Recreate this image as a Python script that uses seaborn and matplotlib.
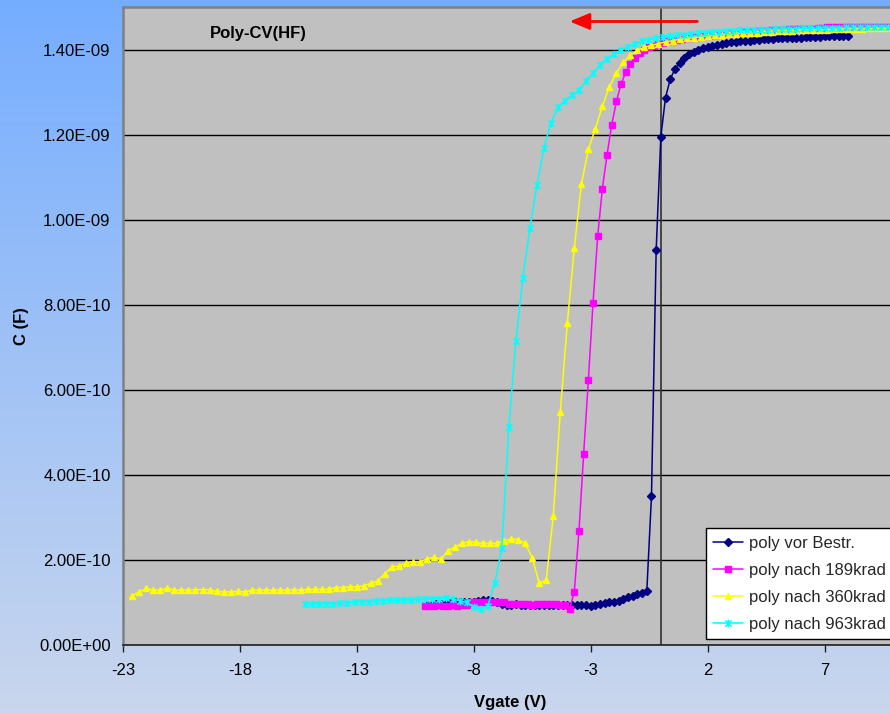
import numpy as np
import matplotlib
matplotlib.use('Agg')
import matplotlib.pyplot as plt
import seaborn as sns
from matplotlib.ticker import FuncFormatter
from matplotlib.path import Path

# ---------------- data (C in units of 1e-10 F) ----------------
series_names = ["poly vor Bestr.", "poly nach 189krad", "poly nach 360krad", "poly nach 963krad"]

vor_x = [-10.0, -9.8, -9.6, -9.4, -9.2, -9.0, -8.8, -8.6, -8.4, -8.2, -8.0, -7.8, -7.6, -7.4, -7.2, -7.0,
         -6.8, -6.6, -6.4, -6.2, -6.0, -5.8, -5.6, -5.4, -5.2, -5.0, -4.8, -4.6, -4.4, -4.2, -4.0, -3.8,
         -3.6, -3.4, -3.2, -3.0, -2.8, -2.6, -2.4, -2.2, -2.0, -1.8, -1.6, -1.4, -1.2, -1.0, -0.8, -0.6,
         -0.4, -0.2, 0.0, 0.2, 0.4, 0.6, 0.8, 1.0, 1.2, 1.4, 1.6, 1.8, 2.0, 2.2, 2.4, 2.6, 2.8, 3.0,
         3.2, 3.4, 3.6, 3.8, 4.0, 4.2, 4.4, 4.6, 4.8, 5.0, 5.2, 5.4, 5.6, 5.8, 6.0, 6.2, 6.4, 6.6,
         6.8, 7.0, 7.2, 7.4, 7.6, 7.8, 8.0]
vor_c = [0.95, 0.96, 0.97, 0.97, 0.98, 0.99, 1.00, 1.01, 1.00, 1.02, 1.01, 1.04, 1.06, 1.05, 1.03, 1.01,
         0.97, 0.95, 0.95, 0.96, 0.95, 0.95, 0.94, 0.93, 0.94, 0.93, 0.94, 0.95, 0.94, 0.94, 0.95, 0.94,
         0.93, 0.94, 0.94, 0.92, 0.94, 0.96, 0.98, 1.00, 1.00, 1.03, 1.08, 1.12, 1.15, 1.19, 1.22, 1.27,
         3.50, 9.28, 11.95, 12.87, 13.30, 13.54, 13.68, 13.80, 13.90, 13.95, 13.99, 14.04, 14.07, 14.09, 14.11, 14.13, 14.15, 14.17,
         14.18, 14.19, 14.20, 14.21, 14.22, 14.23, 14.24, 14.24, 14.25, 14.26, 14.26, 14.27, 14.27, 14.28, 14.28, 14.29, 14.29, 14.30,
         14.30, 14.31, 14.31, 14.31, 14.32, 14.32, 14.32]

k189_x = [-10.1, -9.9, -9.7, -9.5, -9.3, -9.1, -8.9, -8.7, -8.5, -8.3, -8.1, -7.9, -7.7, -7.5, -7.3, -7.1,
          -6.9, -6.7, -6.5, -6.3, -6.1, -5.9, -5.7, -5.5, -5.3, -5.1, -4.9, -4.7, -4.5, -4.3, -4.1, -3.9,
          -3.7, -3.5, -3.3, -3.1, -2.9, -2.7, -2.5, -2.3, -2.1, -1.9, -1.7, -1.5, -1.3, -1.1, -0.9, -0.7,
          -0.5, -0.3, -0.1, 0.1, 0.3, 0.5, 0.7, 0.9, 1.1, 1.3, 1.5, 1.7, 1.9, 2.1, 2.3, 2.5, 2.7, 2.9,
          3.1, 3.3, 3.5, 3.7, 3.9, 4.1, 4.3, 4.5, 4.7, 4.9, 5.1, 5.3, 5.5, 5.7, 5.9, 6.1, 6.3, 6.5,
          6.7, 6.9, 7.1, 7.3, 7.5, 7.7, 7.9, 8.1, 8.3, 8.5, 8.7, 8.9, 9.1, 9.3, 9.5, 9.7, 9.9]
k189_c = [0.92, 0.92, 0.92, 0.93, 0.92, 0.92, 0.93, 0.92, 0.93, 0.95, 1.01, 1.02, 1.02, 1.02, 1.01, 1.02,
          1.01, 1.00, 0.97, 0.96, 0.97, 0.96, 0.96, 0.95, 0.96, 0.96, 0.97, 0.96, 0.96, 0.95, 0.95, 0.85,
          1.25, 2.69, 4.49, 6.22, 8.04, 9.61, 10.73, 11.53, 12.23, 12.78, 13.19, 13.47, 13.66, 13.81, 13.91, 13.99,
          14.05, 14.09, 14.13, 14.16, 14.19, 14.21, 14.23, 14.25, 14.27, 14.28, 14.30, 14.31, 14.33, 14.34, 14.35, 14.36, 14.37, 14.38,
          14.39, 14.40, 14.41, 14.41, 14.42, 14.43, 14.43, 14.44, 14.45, 14.46, 14.47, 14.47, 14.48, 14.48, 14.48, 14.49, 14.49, 14.49,
          14.50, 14.51, 14.52, 14.52, 14.52, 14.52, 14.53, 14.53, 14.53, 14.53, 14.53, 14.53, 14.54, 14.54, 14.54, 14.54, 14.54]

k360_x = [-22.6, -22.3, -22.0, -21.7, -21.4, -21.1, -20.8, -20.5, -20.2, -19.9, -19.6, -19.3, -19.0, -18.7,
          -18.4, -18.1, -17.8, -17.5, -17.2, -16.9, -16.6, -16.3, -16.0, -15.7, -15.4, -15.1, -14.8, -14.5,
          -14.2, -13.9, -13.6, -13.3, -13.0, -12.7, -12.4, -12.1, -11.8, -11.5, -11.2, -10.9, -10.6, -10.3,
          -10.0, -9.7, -9.4, -9.1, -8.8, -8.5, -8.2, -7.9, -7.6, -7.3, -7.0, -6.7, -6.4, -6.1, -5.8, -5.5,
          -5.2, -4.9, -4.6, -4.3, -4.0, -3.7, -3.4, -3.1, -2.8, -2.5, -2.2, -1.9, -1.6, -1.3, -1.0, -0.7,
          -0.4, -0.1, 0.2, 0.5, 0.8, 1.1, 1.4, 1.7, 2.0, 2.3, 2.6, 2.9, 3.2, 3.5, 3.8, 4.1, 4.4, 4.7,
          5.0, 5.3, 5.6, 5.9, 6.2, 6.5, 6.8, 7.1, 7.4, 7.7, 8.0, 8.3, 8.6, 8.9, 9.2, 9.5, 9.8]
k360_c = [1.16, 1.25, 1.33, 1.29, 1.29, 1.33, 1.29, 1.29, 1.29, 1.30, 1.30, 1.30, 1.26, 1.25,
          1.25, 1.26, 1.25, 1.29, 1.29, 1.29, 1.29, 1.29, 1.29, 1.30, 1.29, 1.31, 1.31, 1.31,
          1.31, 1.35, 1.35, 1.37, 1.37, 1.39, 1.45, 1.51, 1.68, 1.84, 1.86, 1.93, 1.96, 1.96,
          2.02, 2.06, 2.02, 2.22, 2.30, 2.39, 2.43, 2.41, 2.39, 2.39, 2.39, 2.45, 2.49, 2.48, 2.39, 2.05,
          1.45, 1.53, 3.03, 5.47, 7.56, 9.33, 10.83, 11.65, 12.14, 12.67, 13.12, 13.45, 13.70, 13.87, 13.98, 14.05,
          14.10, 14.14, 14.18, 14.21, 14.24, 14.26, 14.28, 14.30, 14.32, 14.33, 14.35, 14.36, 14.37, 14.38, 14.39, 14.40, 14.41, 14.42,
          14.43, 14.44, 14.44, 14.45, 14.46, 14.46, 14.47, 14.47, 14.48, 14.48, 14.49, 14.49, 14.49, 14.50, 14.50, 14.50, 14.51]

k963_x = [-15.2, -14.9, -14.6, -14.3, -14.0, -13.7, -13.4, -13.1, -12.8, -12.5, -12.2, -11.9, -11.6, -11.3,
          -11.0, -10.7, -10.4, -10.1, -9.8, -9.5, -9.2, -8.9, -8.6, -8.3, -8.0, -7.7, -7.4, -7.1, -6.8,
          -6.5, -6.2, -5.9, -5.6, -5.3, -5.0, -4.7, -4.4, -4.1, -3.8, -3.5, -3.2, -2.9, -2.6, -2.3, -2.0,
          -1.7, -1.4, -1.1, -0.8, -0.5, -0.2, 0.1, 0.4, 0.7, 1.0, 1.3, 1.6, 1.9, 2.2, 2.5, 2.8, 3.1,
          3.4, 3.7, 4.0, 4.3, 4.6, 4.9, 5.2, 5.5, 5.8, 6.1, 6.4, 6.7, 7.0, 7.3, 7.6, 7.9, 8.2, 8.5,
          8.8, 9.1, 9.4, 9.7]
k963_c = [0.96, 0.96, 0.96, 0.97, 0.97, 0.98, 0.98, 1.01, 1.02, 1.02, 1.03, 1.04, 1.05, 1.05,
          1.06, 1.06, 1.07, 1.07, 1.09, 1.09, 1.10, 1.08, 1.04, 1.00, 0.90, 0.84, 0.92, 1.45, 2.27,
          5.12, 7.14, 8.64, 9.80, 10.81, 11.68, 12.28, 12.64, 12.80, 12.92, 13.04, 13.26, 13.44, 13.64, 13.77, 13.90,
          13.99, 14.07, 14.13, 14.19, 14.23, 14.27, 14.29, 14.31, 14.33, 14.35, 14.37, 14.38, 14.40, 14.41, 14.42, 14.43, 14.44,
          14.45, 14.45, 14.46, 14.47, 14.47, 14.48, 14.48, 14.49, 14.49, 14.50, 14.50, 14.50, 14.51, 14.51, 14.51, 14.52, 14.52, 14.52,
          14.52, 14.53, 14.53, 14.53]

y_ticks = [0.0, 2e-10, 4e-10, 6e-10, 8e-10, 1.0e-9, 1.2e-9, 1.4e-9]
x_ticks = [-23, -18, -13, -8, -3, 2, 7]

# ---------------- styling ----------------
sns.set_theme(style='white')
plt.rcParams['font.family'] = ['Liberation Sans', 'DejaVu Sans']
plt.rcParams['axes.unicode_minus'] = False

fig = plt.figure(figsize=(8.9, 7.14), dpi=100)

# gradient background
bg = fig.add_axes([0, 0, 1, 1], zorder=-10)
g = np.linspace(0, 1, 256)[:, None, None]
top = np.array([0.46, 0.68, 1.0])
bot = np.array([0.79, 0.84, 0.93])
img = top + (bot - top) * g
bg.imshow(img, aspect='auto', extent=[0, 1, 0, 1])
bg.set_axis_off()

ax = fig.add_axes([123 / 890, 1 - 645 / 714, 1 - 123 / 890, 638 / 714])
ax.set_facecolor('#C0C0C0')

# Excel-like "star" marker: an x with a vertical bar
star = Path([(-1, -1), (1, 1), (-1, 1), (1, -1), (0, -1.25), (0, 1.25)],
            [Path.MOVETO, Path.LINETO, Path.MOVETO, Path.LINETO, Path.MOVETO, Path.LINETO])

styles = [
    (vor_x, vor_c, '#000080', 'D', 4.0, 1.0),
    (k189_x, k189_c, '#FF00FF', 's', 4.0, 1.0),
    (k360_x, k360_c, '#FFFF00', '^', 5.0, 1.0),
    (k963_x, k963_c, '#00FFFF', star, 5.5, 1.1),
]
for (xs, cs, col, mk, ms, mew), name in zip(styles, series_names):
    assert len(xs) == len(cs), name
    sns.lineplot(x=xs, y=np.array(cs) * 1e-10, ax=ax, color=col, marker=mk, markersize=ms,
                 markeredgecolor=col, markerfacecolor=col, markeredgewidth=mew,
                 linewidth=1.1, label=name, sort=False, estimator=None, zorder=3)

ax.axvline(0, color='#303030', lw=1.2, zorder=2)

ax.set_xlim(-23, 9.8)
ax.set_ylim(0, 1.5e-9)
ax.set_xticks(x_ticks)
ax.set_yticks(y_ticks)
ax.yaxis.set_major_formatter(FuncFormatter(lambda v, p: f"{v:.2E}"))
ax.yaxis.grid(True, color='black', lw=1.0)
ax.xaxis.grid(False)
ax.set_axisbelow(True)

ax.tick_params(axis='x', bottom=True, direction='out', length=5, width=1, color='#202020',
               labelsize=12, pad=8, labelcolor='black')
ax.tick_params(axis='y', left=False, length=0, labelsize=12, pad=9, labelcolor='black')

for s in ['top', 'left']:
    ax.spines[s].set_color('#808080')
    ax.spines[s].set_linewidth(1.8)
ax.spines['bottom'].set_color('#202020')
ax.spines['bottom'].set_linewidth(1.2)
ax.spines['right'].set_visible(False)

ax.set_xlabel('Vgate (V)', fontsize=12, fontweight='bold', color='black')
ax.set_ylabel('C (F)', fontsize=12, fontweight='bold', color='black')
ax.xaxis.set_label_coords(0.5046, -0.078)
ax.yaxis.set_label_coords(-0.122, 0.5)

ax.text(0.176, 0.959, 'Poly-CV(HF)', transform=ax.transAxes, ha='center', va='center',
        fontsize=12, fontweight='bold', color='black')

ax.annotate('', xy=(-3.9, 1.466e-9), xytext=(1.56, 1.466e-9),
            arrowprops=dict(arrowstyle='-|>,head_length=0.6,head_width=0.25', color='red',
                            lw=2, mutation_scale=20, shrinkA=0, shrinkB=0), zorder=5)

leg = ax.legend(loc='lower left', bbox_to_anchor=(0.760, 0.009), frameon=True, fancybox=False,
                edgecolor='black', facecolor='white', framealpha=1, fontsize=12,
                handlelength=1.8, handletextpad=0.35, labelspacing=0.72, borderpad=0.45,
                borderaxespad=0)
leg.get_frame().set_linewidth(1.0)
leg.set_zorder(10)

fig.savefig('out.png', dpi=100)
